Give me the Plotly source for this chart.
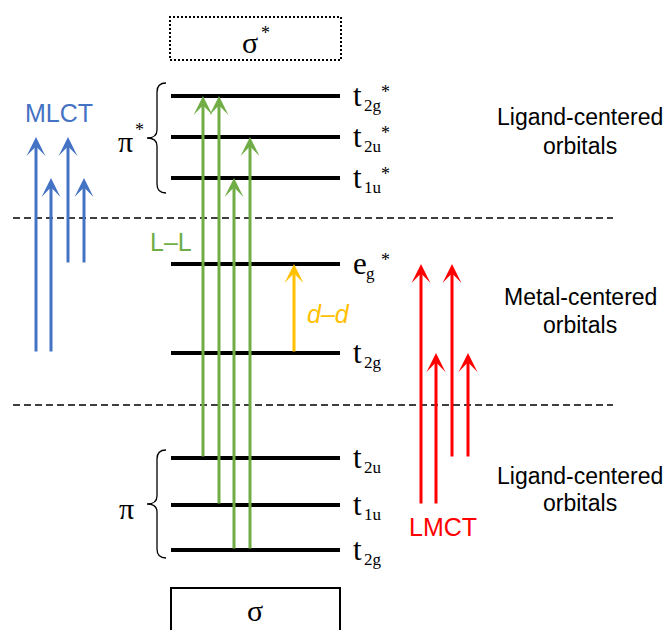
import plotly.graph_objects as go

# Orbital energies (arbitrary units, higher = less stable)
level_names = ["t2g*", "t2u*", "t1u*", "eg*", "t2g", "t2u", "t1u", "t2g(pi)"]
level_energy = [534, 493, 452, 366, 277, 172, 125, 80]
level_base = ["t", "t", "t", "e", "t", "t", "t", "t"]
level_sub = ["2g", "2u", "1u", "g", "2g", "2u", "1u", "2g"]
level_star = [True, True, True, True, False, False, False, False]

# Boundaries between ligand- and metal-centred regions
separator_energy = [412, 225]

# Electronic transitions (from level, to level)
ll_from = ["t2u", "t1u", "t2g(pi)", "t2g(pi)"]
ll_to = ["t2g*", "t2g*", "t1u*", "t2u*"]
mlct_from = ["t2g", "t2g", "eg*", "eg*"]
mlct_to = ["t2u*", "t1u*", "t2u*", "t1u*"]
lmct_from = ["t1u", "t1u", "t2u", "t2u"]
lmct_to = ["eg*", "t2g", "eg*", "t2g"]
dd_from = ["t2g"]
dd_to = ["eg*"]

E = dict(zip(level_names, level_energy))

# ---- layout constants ----
W, H = 667, 630
LEVEL_X0, LEVEL_X1 = 171, 340
SERIF = "Liberation Serif"
SANS = "Liberation Sans"
BLUE, GREEN, YELLOW, RED = "#4472C4", "#70AD47", "#FFC000", "#FF0000"

fig = go.Figure()

# energy levels
for name, e in zip(level_names, level_energy):
    fig.add_trace(go.Scatter(x=[LEVEL_X0, LEVEL_X1], y=[e, e], mode="lines",
                             line=dict(color="black", width=4),
                             hoverinfo="skip", showlegend=False))

# dashed region separators
for e in separator_energy:
    fig.add_shape(type="line", x0=13, x1=613, y0=e, y1=e, xref="x", yref="y",
                  line=dict(color="black", width=1.5, dash="7px,4px"))

# sigma* (dotted) and sigma (solid) boxes
fig.add_shape(type="rect", x0=170, x1=341, y0=570, y1=613,
              line=dict(color="black", width=2, dash="2px,2px"))
fig.add_shape(type="rect", x0=171, x1=340, y0=-20, y1=42,
              line=dict(color="black", width=2))


def brace(x_tip, x_mid, x_end, top, bottom):
    mid = (top + bottom) / 2
    r = 9
    return (f"M{x_end},{top} Q{x_mid},{top} {x_mid},{top - r} "
            f"L{x_mid},{mid + 8} Q{x_mid},{mid} {x_tip},{mid} "
            f"Q{x_mid},{mid} {x_mid},{mid - 8} "
            f"L{x_mid},{bottom + r} Q{x_mid},{bottom} {x_end},{bottom}")


for top, bottom in [(547, 437), (180, 72)]:
    fig.add_shape(type="path", path=brace(147, 157, 166, top, bottom),
                  line=dict(color="black", width=1.3))


def text(x, y, s, size, color="black", family=SERIF, xanchor="center"):
    fig.add_annotation(x=x, y=y, text=s, showarrow=False, xref="x", yref="y",
                       xanchor=xanchor, yanchor="middle",
                       font=dict(family=family, size=size, color=color))


# level labels: base letter, subscript, optional asterisk
for e, base, sub, star in zip(level_energy, level_base, level_sub, level_star):
    text(351, e + 1, base, 31, xanchor="left")
    text(364 if base == "e" else 362, e - 9, sub, 17, xanchor="left")
    if star:
        text(379, e + 4, "*", 18, xanchor="left")

# group labels
text(250, 588, "σ", 30)
text(259, 597, "*", 18, xanchor="left")
text(255, 20, "σ", 30)
text(125, 489, "π", 30)
text(133, 500, "*", 18, xanchor="left")
text(126, 122, "π", 30)

# region labels
for y, s in [(513, "Ligand-centered"), (484, "orbitals"),
             (333, "Metal-centered"), (305, "orbitals"),
             (154, "Ligand-centered"), (127, "orbitals")]:
    text(580, y, s, 23, family=SANS)

# transition labels
text(59, 517, "MLCT", 25, BLUE, SANS)
text(443, 103, "LMCT", 25, RED, SANS)
text(171, 388, "L–L", 25, GREEN, SANS)
text(328, 316, "<i>d–d</i>", 25, YELLOW, SANS)


def arrows(xs, src, dst, color):
    for x, a, b in zip(xs, src, dst):
        fig.add_annotation(x=x, y=E[b], ax=x, ay=E[a], xref="x", yref="y",
                           axref="x", ayref="y", text="", showarrow=True,
                           arrowhead=3, arrowsize=1.05, arrowwidth=3,
                           arrowcolor=color, standoff=0, startstandoff=0,
                           font=dict(size=1))


arrows([203, 219, 234, 250], ll_from, ll_to, GREEN)
arrows([36, 51, 68, 84], mlct_from, mlct_to, BLUE)
arrows([421, 436, 452, 468], lmct_from, lmct_to, RED)
arrows([294], dd_from, dd_to, YELLOW)

fig.update_layout(
    width=W, height=H, margin=dict(l=0, r=0, t=0, b=0),
    paper_bgcolor="white", plot_bgcolor="white", showlegend=False,
    xaxis=dict(range=[0, W], visible=False, fixedrange=True),
    yaxis=dict(range=[0, H], visible=False, fixedrange=True),
)

fig.write_html("out.html")
